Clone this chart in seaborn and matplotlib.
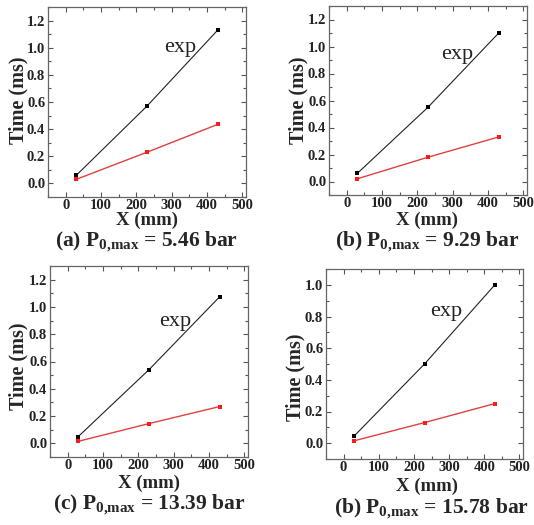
import matplotlib
matplotlib.use('Agg')
import matplotlib.pyplot as plt
from matplotlib.ticker import MultipleLocator
import seaborn as sns

sns.set_theme(style='ticks')
plt.rcParams['font.family'] = ['Liberation Serif', 'DejaVu Serif']
plt.rcParams['mathtext.fontset'] = 'custom'
plt.rcParams['mathtext.rm'] = 'Liberation Serif:bold'
plt.rcParams['mathtext.bf'] = 'Liberation Serif:bold'
plt.rcParams['mathtext.default'] = 'bf'

# data
x_mm = [30, 230, 430]
exp_a = [0.06, 0.57, 1.13]
red_a = [0.03, 0.23, 0.435]
exp_b = [0.06, 0.55, 1.10]
red_b = [0.02, 0.18, 0.33]
exp_c = [0.05, 0.54, 1.075]
red_c = [0.015, 0.145, 0.27]
exp_d = [0.045, 0.50, 1.00]
red_d = [0.015, 0.13, 0.25]

captions = [r'(a) P$_{0{,}max}$ = 5.46 bar', r'(b) P$_{0{,}max}$ = 9.29 bar',
            r'(c) P$_{0{,}max}$ = 13.39 bar', r'(b) P$_{0{,}max}$ = 15.78 bar']
y_tops = [1.3, 1.3, 1.3, 1.1]
exp_pos = [(324, 1.0), (313, 0.94), (305, 0.89), (291, 0.83)]

W, H = 534, 525
fig = plt.figure(figsize=(W / 100, H / 100), dpi=100)

# axes boxes in pixels: left, top, width, height
boxes = [(48, 7, 198, 190), (329, 6, 198, 189), (50, 266, 198, 191), (326, 269, 197, 190)]
ylab_xy = [(18, 100), (298, 100), (18, 366), (295, 377)]
xlab_xy = [(147, 220.5), (427, 220.5), (149, 483), (427, 486.5)]
cap_xy = [(146, 242), (427, 242), (149, 505), (431, 509)]

exps = [exp_a, exp_b, exp_c, exp_d]
reds = [red_a, red_b, red_c, red_d]

for i in range(4):
    l, t, w, h = boxes[i]
    ax = fig.add_axes([l / W, 1 - (t + h) / H, w / W, h / H])
    sns.lineplot(x=x_mm, y=exps[i], ax=ax, color='#222222', linewidth=0.8,
                 marker='s', markersize=3.2, markeredgewidth=0, markerfacecolor='black')
    sns.lineplot(x=x_mm, y=reds[i], ax=ax, color='#e04040', linewidth=1.0,
                 marker='s', markersize=3.2, markeredgewidth=0, markerfacecolor='#ff1a1a')
    ax.set_xlim(-50, 510)
    ax.set_ylim(-0.1, y_tops[i])
    ax.xaxis.set_minor_locator(MultipleLocator(50))
    ax.yaxis.set_minor_locator(MultipleLocator(0.1))
    ax.set_xticks(range(0, 501, 100))
    yt = [v / 10 for v in range(0, int(round(y_tops[i] * 10)), 2)]
    ax.set_yticks(yt)
    ax.set_yticklabels([f'{v:.1f}' for v in yt])
    ax.tick_params(which='both', direction='in', top=True, right=True,
                   color='#555555', width=0.8, labelsize=10.5, pad=2)
    ax.tick_params(axis='x', pad=1.5)
    ax.tick_params(which='major', length=3.5)
    ax.tick_params(which='minor', length=2)
    for lab in ax.get_xticklabels() + ax.get_yticklabels():
        lab.set_fontweight('bold')
        lab.set_color('#222222')
    for sp in ax.spines.values():
        sp.set_color('#666666')
        sp.set_linewidth(0.9)
    ax.set_xlabel('')
    ax.set_ylabel('')
    ax.text(exp_pos[i][0], exp_pos[i][1], 'exp', fontsize=16, ha='center', va='center',
            color='#222222')
    fig.text(ylab_xy[i][0] / W, 1 - ylab_xy[i][1] / H, 'Time (ms)', rotation=90,
             ha='center', va='center', fontsize=14.5, fontweight='bold')
    fig.text(xlab_xy[i][0] / W, 1 - xlab_xy[i][1] / H, 'X (mm)',
             ha='center', va='center', fontsize=13.5, fontweight='bold')
    fig.text(cap_xy[i][0] / W, 1 - cap_xy[i][1] / H, captions[i],
             ha='center', va='center', fontsize=15.5, fontweight='bold')

fig.savefig('out.png', dpi=100)
